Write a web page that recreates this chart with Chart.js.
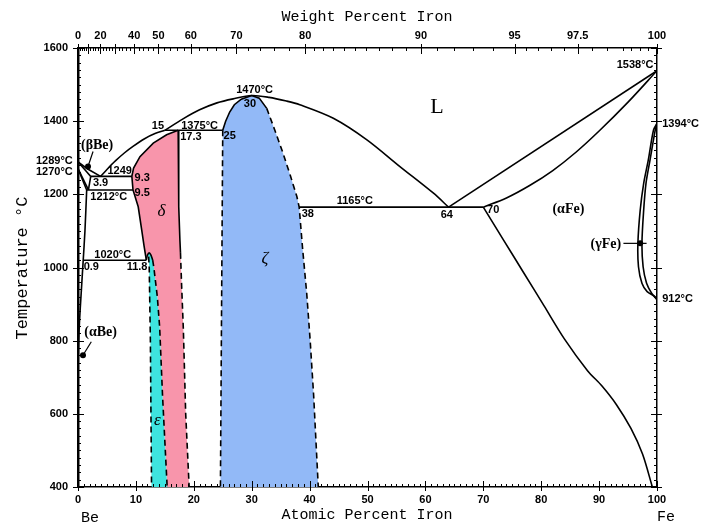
<!DOCTYPE html>
<html>
<head>
<meta charset="utf-8">
<script src="https://cdn.jsdelivr.net/npm/chart.js@4.4.1/dist/chart.umd.min.js"></script>
<style>
  html, body { margin: 0; padding: 0; background: #fff; }
  #wrap { width: 713px; height: 524px; }
</style>
</head>
<body>
<div id="wrap"><canvas id="c" width="713" height="524"></canvas></div>
<script>
// Be-Fe phase diagram, points are [at.% Fe, °C]

// Liquidus
const liqBe = [[0, 1289], [1.6, 1270], [3.9, 1249]];
const liqDelta = [[3.9, 1249], [5, 1268], [6.5, 1292], [8, 1313], [9.5, 1331], [11.5, 1352], [13.3, 1366], [15, 1375]];
const liqZeta = [[15, 1375], [18, 1405], [21, 1431], [24, 1450], [26.8, 1461], [30, 1470], [33, 1465], [36, 1455],
  [38.3, 1445], [44.1, 1408], [49.9, 1349], [55.6, 1276], [61.4, 1203], [64, 1165]];
const liqFe = [[64, 1165], [100, 1538]];
const solFe = [[70, 1165], [74, 1190], [78, 1224], [82, 1265], [86, 1315], [90, 1373], [95, 1452], [100, 1538]];
const solvFe = [[70, 1165], [73.5, 1075], [77, 985], [80.5, 895], [84, 805], [88, 718], [90.5, 676], [93, 625],
  [95.5, 560], [97.5, 490], [99.2, 400]];

// gamma Fe loop
const gammaOuter = [[100, 1394], [99.4, 1376], [98.5, 1294], [97.7, 1230], [97.1, 1157], [96.7, 1066], [96.8, 1002],
  [97.4, 957], [98.3, 934], [99.7, 920], [100, 912]];
const gammaInner = [[100, 1394], [99.7, 1376], [98.8, 1294], [98.1, 1230], [97.7, 1157], [97.4, 1066], [97.6, 1002],
  [98.2, 957], [99.1, 929], [100, 912]];

// Be corner
const solBeta = [[0, 1289], [2.2, 1249]];
const solvBeta = [[2.2, 1249], [1.8, 1212]];
const betaLow = [[0, 1270], [1.8, 1212]];
const alphaTop = [[0, 1270], [1.5, 1212]];
const solvAlpha = [[1.5, 1212], [1.2, 1100], [0.9, 1020], [0.55, 930], [0.25, 850], [0.08, 780], [0, 700]];

// invariant lines
const iso1375 = [[15, 1375], [25, 1375]];
const iso1165 = [[38.2, 1165], [70, 1165]];
const iso1249 = [[2.2, 1249], [9.3, 1249]];
const iso1212 = [[1.5, 1212], [9.5, 1212]];
const iso1020 = [[0.9, 1020], [11.8, 1020]];

// delta / epsilon
const deltaLeft = [[17.3, 1375], [15.3, 1363], [13, 1340], [10.7, 1303], [9.6, 1272], [9.3, 1249], [9.5, 1212],
  [10.4, 1166], [11, 1103], [11.4, 1060], [11.8, 1020]];
const dome = [[11.8, 1020], [12, 1034], [12.3, 1040], [12.6, 1034], [12.9, 1020]];
const epsRight = [[12.9, 1020], [13.1, 1000], [13.7, 920], [14.1, 838], [14.6, 650], [15.4, 400]];
const epsLeft = [[12.2, 1030], [12.3, 1000], [12.4, 900], [12.5, 800], [12.6, 600], [12.7, 400]];
const deltaRightTop = [[17.3, 1375], [17.4, 1166], [17.6, 1075], [17.7, 1040]];
const deltaRightLow = [[17.7, 1040], [17.9, 950], [18.2, 829], [18.6, 600], [19.2, 400]];

// zeta
const zetaTop = [[25, 1375], [25.5, 1400], [26.2, 1425], [27, 1445], [28.2, 1460], [30, 1470], [31.3, 1463], [32.6, 1435]];
const zetaRight = [[32.6, 1435], [34, 1375], [35.4, 1313], [36.7, 1250], [37.8, 1194], [38.2, 1165], [38.8, 1050],
  [39.5, 930], [40.1, 800], [40.7, 650], [41.5, 400]];
const zetaLeft = [[25, 1375], [24.8, 900], [24.6, 400]];

// leaders for phase labels
const leaderBeta = [[2.6, 1317], [1.73, 1276]];
const leaderAlpha = [[2.3, 797], [0.86, 760]];
const leaderGamma = [[94.2, 1066], [97.1, 1066], [98.2, 1066]];

// axis ticks
const atTicks = [0, 10, 20, 30, 40, 50, 60, 70, 80, 90, 100];
const tempTicks = [400, 600, 800, 1000, 1200, 1400, 1600];
const wtTicks = [0, 10, 20, 30, 40, 50, 60, 70, 80, 90, 95, 97.5, 100];
const wtLabels = ['0', '', '20', '', '40', '50', '60', '70', '80', '90', '95', '97.5', '100'];

const PINK = '#f895ab';
const CYAN = '#3ee4df';
const BLUE = '#92b9f7';

const wtToAt = w => {
  const fe = w / 55.845, be = (100 - w) / 9.012;
  return 100 * fe / (fe + be);
};

const pts = a => a.map(([x, y]) => ({ x, y }));
const DASH = [6, 4];

function line(data, opts = {}) {
  return Object.assign({
    data: pts(data), showLine: true, borderColor: '#000', borderWidth: 1.6,
    pointRadius: 0, fill: false, tension: 0, order: 0
  }, opts);
}
function area(data, color) {
  return {
    data: pts(data), showLine: true, borderWidth: 0, borderColor: 'rgba(0,0,0,0)',
    backgroundColor: color, pointRadius: 0, fill: 'shape', tension: 0, order: 5
  };
}

const zetaPoly = [...zetaLeft.slice().reverse(), ...zetaTop, ...zetaRight];
const deltaPoly = [...deltaLeft, ...dome, ...epsRight, ...deltaRightLow.slice().reverse(), ...deltaRightTop.slice().reverse()];
const epsPoly = [[12.3, 1040], [12.6, 1034], ...epsRight, ...epsLeft.slice().reverse(), [12.0, 1034]];

const datasets = [
  area(zetaPoly, BLUE),
  area(deltaPoly, PINK),
  Object.assign(area(epsPoly, CYAN), { order: 4 }),

  line(liqBe), line(liqDelta, { tension: 0.3 }), line(liqZeta, { tension: 0.3 }), line(liqFe),
  line(solFe, { tension: 0.3 }), line(solvFe, { tension: 0.3 }),
  line(gammaOuter, { tension: 0.3 }), line(gammaInner, { tension: 0.3 }),
  line(solBeta), line(solvBeta), line(betaLow), line(alphaTop), line(solvAlpha, { tension: 0.3 }),
  line(iso1375), line(iso1165), line(iso1249), line(iso1212), line(iso1020),
  line(deltaLeft), line(dome, { tension: 0.3 }), line(deltaRightTop),
  line(deltaRightLow, { borderDash: DASH }),
  line(epsRight, { borderDash: DASH }), line(epsLeft, { borderDash: DASH }),
  line(zetaTop), line(zetaRight, { borderDash: DASH }), line(zetaLeft, { borderDash: DASH }),
  line(leaderBeta, { borderWidth: 1.2, pointRadius: [0, 3], pointBackgroundColor: '#000', pointBorderWidth: 0 }),
  line(leaderAlpha, { borderWidth: 1.2, pointRadius: [0, 3], pointBackgroundColor: '#000', pointBorderWidth: 0 }),
  line(leaderGamma, { borderWidth: 1.2, pointRadius: [0, 3, 0], pointBackgroundColor: '#000', pointBorderWidth: 0 })
];

// text on the diagram, placed in data units
const NUM = 'bold 11px "Liberation Sans", Arial, sans-serif';
const PHASE = 'bold 14px "Liberation Serif", "DejaVu Serif", serif';
const GREEK = 'italic 17px "Liberation Serif", "DejaVu Serif", serif';
const notes = [
  ['1289°C', -0.9, 1290, 'right'], ['1270°C', -0.9, 1262, 'right'],
  ['(βBe)', 3.3, 1333, 'center', PHASE], ['3.9', 3.9, 1232], ['1249', 7.2, 1265],
  ['9.3', 11.1, 1246], ['9.5', 11.1, 1205], ['1212°C', 5.3, 1194], ['1020°C', 6.0, 1034],
  ['0.9', 2.3, 1001], ['11.8', 10.2, 1001],
  ['δ', 14.4, 1153, 'center', GREEK], ['ζ', 32.3, 1025, 'center', GREEK], ['ε', 13.7, 583, 'center', GREEK],
  ['(αBe)', 3.9, 822, 'center', PHASE],
  ['15', 13.8, 1387], ['1375°C', 21.0, 1387], ['17.3', 19.5, 1358], ['25', 26.2, 1360],
  ['1470°C', 30.5, 1486], ['30', 29.7, 1447],
  ['L', 62.0, 1439, 'center', '22px "Liberation Serif", "DejaVu Serif", serif'],
  ['1538°C', 99.4, 1554, 'right'], ['1394°C', 100.9, 1393, 'left'],
  ['(αFe)', 84.7, 1160, 'center', PHASE], ['(γFe)', 93.8, 1064, 'right', PHASE],
  ['912°C', 100.9, 913, 'left'],
  ['1165°C', 47.8, 1182], ['64', 63.7, 1144], ['70', 71.7, 1157], ['38', 39.7, 1146]
];

const decor = {
  id: 'decor',
  afterDraw(chart) {
    const { ctx, chartArea: a, scales } = chart;
    const x = scales.x, y = scales.y;
    ctx.save();
    ctx.strokeStyle = '#000';
    ctx.lineWidth = 1;
    const seg = (x1, y1, x2, y2) => { ctx.beginPath(); ctx.moveTo(x1, y1); ctx.lineTo(x2, y2); ctx.stroke(); };

    // temperature ticks, both sides
    for (let t = 400; t <= 1600; t += 20) {
      const py = Math.round(y.getPixelForValue(t)) + 0.5;
      const major = tempTicks.includes(t);
      seg(a.left - (major ? 5 : 0), py, a.left + (major ? 6 : 3), py);
      seg(a.right + (major ? 5 : 0), py, a.right - (major ? 6 : 3), py);
    }
    // atomic % ticks
    for (let v = 0; v <= 100; v += 1) {
      const px = Math.round(x.getPixelForValue(v)) + 0.5;
      const major = atTicks.includes(v);
      seg(px, a.bottom + (major ? 4 : 0), px, a.bottom - (major ? 6 : 3));
    }
    // weight % ticks on top
    const minorWt = [];
    for (let w = 0; w < 80; w += 2) minorWt.push(w);
    for (let w = 80; w < 95; w += 1) minorWt.push(w);
    for (let w = 95; w < 99; w += 0.5) minorWt.push(w);
    for (let w = 99; w < 100; w += 0.25) minorWt.push(w);
    minorWt.forEach(w => {
      const px = Math.round(x.getPixelForValue(wtToAt(w))) + 0.5;
      seg(px, a.top, px, a.top + 3);
    });
    wtTicks.forEach(w => {
      const px = Math.round(x.getPixelForValue(wtToAt(w))) + 0.5;
      seg(px, a.top - 4, px, a.top + 6);
    });

    // notes
    ctx.fillStyle = '#000';
    ctx.textBaseline = 'middle';
    notes.forEach(([txt, vx, vy, align, font]) => {
      ctx.font = font || NUM;
      ctx.textAlign = align || 'center';
      ctx.fillText(txt, x.getPixelForValue(vx), y.getPixelForValue(vy));
    });

    // axis titles
    ctx.font = '15px "Liberation Mono", "DejaVu Sans Mono", monospace';
    ctx.textAlign = 'center';
    ctx.fillText('Weight Percent Iron', 367, 17);
    ctx.fillText('Atomic Percent Iron', 367, 515);
    ctx.fillText('Be', 90, 518);
    ctx.fillText('Fe', 666, 517);
    ctx.save();
    ctx.translate(22, 268);
    ctx.rotate(-Math.PI / 2);
    ctx.font = '17px "Liberation Mono", "DejaVu Sans Mono", monospace';
    ctx.fillText('Temperature °C', 0, 0);
    ctx.restore();
    ctx.restore();
  }
};

const TICKFONT = { family: '"Liberation Sans", Arial, sans-serif', size: 11, weight: 'bold' };

new Chart(document.getElementById('c'), {
  type: 'scatter',
  data: { datasets },
  options: {
    responsive: false,
    animation: false,
    devicePixelRatio: 1,
    layout: { padding: 0 },
    plugins: { legend: { display: false }, tooltip: { enabled: false } },
    scales: {
      x: {
        type: 'linear', position: 'bottom', min: 0, max: 100,
        afterBuildTicks: s => { s.ticks = atTicks.map(v => ({ value: v })); },
        afterFit: s => { s.height = 37; },
        ticks: { color: '#000', font: TICKFONT, padding: 6, autoSkip: false, maxRotation: 0, callback: v => String(v) },
        grid: { display: false, drawTicks: false },
        border: { display: true, color: '#000', width: 1.5 }
      },
      xTop: {
        type: 'linear', position: 'top', min: 0, max: 100,
        afterBuildTicks: s => { s.ticks = wtTicks.map(w => ({ value: wtToAt(w) })); },
        afterFit: s => { s.height = 48; },
        ticks: {
          color: '#000', font: TICKFONT, padding: 5, autoSkip: false, maxRotation: 0,
          callback: (v, i) => wtLabels[i]
        },
        grid: { display: false, drawTicks: false },
        border: { display: true, color: '#000', width: 1.5 }
      },
      y: {
        type: 'linear', position: 'left', min: 400, max: 1600,
        afterBuildTicks: s => { s.ticks = tempTicks.map(v => ({ value: v })); },
        afterFit: s => { s.width = 78; },
        ticks: { color: '#000', font: TICKFONT, padding: 10, autoSkip: false, callback: v => String(v) },
        grid: { display: false, drawTicks: false },
        border: { display: true, color: '#000', width: 2.5 }
      },
      yRight: {
        type: 'linear', position: 'right', min: 400, max: 1600,
        afterFit: s => { s.width = 56; },
        ticks: { display: false },
        grid: { display: false, drawTicks: false },
        border: { display: true, color: '#000', width: 1.5 }
      }
    }
  },
  plugins: [decor]
});
</script>
</body>
</html>
